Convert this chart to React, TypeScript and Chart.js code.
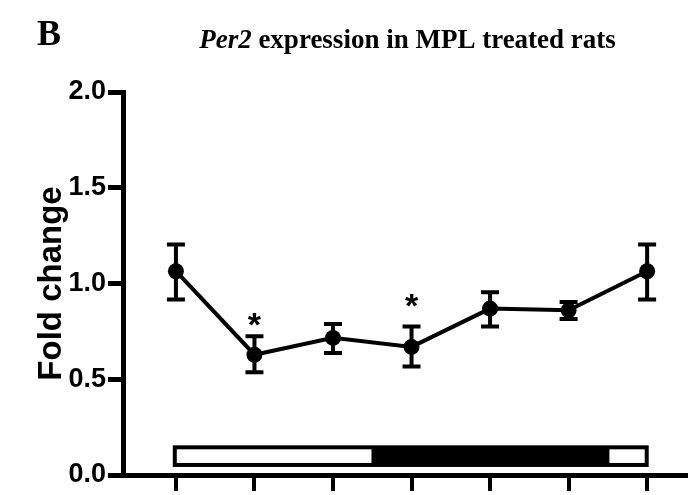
import React, { useEffect, useRef } from 'react';
import { Chart, registerables } from 'chart.js';

Chart.register(...registerables);

// ---- data ----
const timePoints = [0, 1, 2, 3, 4, 5, 6];
const foldChange = [1.064, 0.628, 0.716, 0.669, 0.869, 0.86, 1.064];
const errUpper = [1.204, 0.724, 0.789, 0.776, 0.954, 0.904, 1.204];
const errLower = [0.917, 0.536, 0.637, 0.567, 0.776, 0.815, 0.917];
const yTicks = [0, 0.5, 1.0, 1.5, 2.0];
const starIndex = [1, 3];
const starLevel = [0.81, 0.91];
// light/dark bar
const phaseStart = [-0.04, 2.49, 5.52];
const phaseEnd = [2.49, 5.52, 6.02];
const phaseDark = [false, true, false];
const phaseBarBottom = 0.042;
const phaseBarTop = 0.155;

const SANS = '"Liberation Sans", Arial, sans-serif';
const SERIF = '"Liberation Serif", "Times New Roman", serif';

const decorPlugin = {
  id: 'decor',
  beforeDatasetsDraw(chart: any) {
    const { ctx, scales } = chart;
    const xs = scales.x;
    const ys = scales.y;
    // phase bar
    const frame = 4;
    const x0 = xs.getPixelForValue(phaseStart[0]);
    const x1 = xs.getPixelForValue(phaseEnd[phaseEnd.length - 1]);
    const yt = ys.getPixelForValue(phaseBarTop);
    const yb = ys.getPixelForValue(phaseBarBottom);
    ctx.save();
    ctx.fillStyle = '#000';
    ctx.fillRect(x0, yt, x1 - x0, yb - yt);
    ctx.fillStyle = '#fff';
    phaseStart.forEach((s, i) => {
      if (phaseDark[i]) return;
      let a = xs.getPixelForValue(s);
      let b = xs.getPixelForValue(phaseEnd[i]);
      if (i === 0) a += frame;
      if (i === phaseStart.length - 1) b -= frame;
      ctx.fillRect(a, yt + frame, b - a, yb - yt - 2 * frame);
    });
    // error bars
    ctx.strokeStyle = '#000';
    ctx.lineWidth = 4;
    ctx.lineCap = 'butt';
    const cap = 9;
    timePoints.forEach((t, i) => {
      const px = xs.getPixelForValue(t);
      const pu = ys.getPixelForValue(errUpper[i]);
      const pl = ys.getPixelForValue(errLower[i]);
      ctx.beginPath();
      ctx.moveTo(px, pu);
      ctx.lineTo(px, pl);
      ctx.moveTo(px - cap, pu);
      ctx.lineTo(px + cap, pu);
      ctx.moveTo(px - cap, pl);
      ctx.lineTo(px + cap, pl);
      ctx.stroke();
    });
    ctx.restore();
  },
  afterDraw(chart: any) {
    const { ctx, scales, chartArea } = chart;
    const xs = scales.x;
    const ys = scales.y;
    ctx.save();
    ctx.fillStyle = '#000';
    // asterisks
    ctx.font = `bold 34px ${SANS}`;
    ctx.textAlign = 'center';
    ctx.textBaseline = 'alphabetic';
    const m = ctx.measureText('*');
    starIndex.forEach((idx, k) => {
      const cx = xs.getPixelForValue(timePoints[idx]);
      const cy = ys.getPixelForValue(starLevel[k]);
      const base = cy + (m.actualBoundingBoxAscent - m.actualBoundingBoxDescent) / 2;
      ctx.fillText('*', cx, base);
    });
    // panel letter
    ctx.textAlign = 'left';
    ctx.font = `bold 36px ${SERIF}`;
    ctx.fillText('B', 37, 45);
    // title: italic gene + bold rest
    const part1 = 'Per2';
    const part2 = ' expression in MPL treated rats';
    const f1 = `italic bold 27px ${SERIF}`;
    const f2 = `bold 27px ${SERIF}`;
    ctx.font = f1;
    const w1 = ctx.measureText(part1).width;
    ctx.font = f2;
    const w2 = ctx.measureText(part2).width;
    const cxT = (chartArea.left + chartArea.right) / 2 + 3;
    const startX = cxT - (w1 + w2) / 2;
    ctx.font = f1;
    ctx.fillText(part1, startX, 48);
    ctx.font = f2;
    ctx.fillText(part2, startX + w1, 48);
    // y axis title
    ctx.font = `bold 33px ${SANS}`;
    ctx.textAlign = 'center';
    ctx.textBaseline = 'middle';
    ctx.translate(52, (chartArea.top + chartArea.bottom) / 2);
    ctx.rotate(-Math.PI / 2);
    ctx.fillText('Fold change', 0, 0);
    ctx.restore();
  },
};

export default function App() {
  const ref = useRef<HTMLCanvasElement | null>(null);
  useEffect(() => {
    if (!ref.current) return;
    const chart = new Chart(ref.current, {
      type: 'line',
      data: {
        datasets: [
          {
            data: timePoints.map((t, i) => ({ x: t, y: foldChange[i] })),
            borderColor: '#000',
            backgroundColor: '#000',
            borderWidth: 4,
            pointRadius: 8,
            pointBackgroundColor: '#000',
            pointBorderWidth: 0,
            pointBorderColor: '#000',
            tension: 0,
            clip: false as any,
          },
        ],
      },
      options: {
        responsive: false,
        animation: false,
        devicePixelRatio: 1,
        layout: { padding: { top: 92, right: 12, left: 0, bottom: 0 } },
        plugins: {
          legend: { display: false },
          tooltip: { enabled: false },
          title: { display: false },
        },
        scales: {
          x: {
            type: 'linear',
            min: -0.674,
            max: 6.495,
            afterBuildTicks: (s: any) => {
              s.ticks = timePoints.map((v) => ({ value: v }));
            },
            afterFit: (s: any) => {
              s.height = 20;
            },
            ticks: { callback: () => '', padding: 0 },
            grid: {
              drawOnChartArea: false,
              drawTicks: true,
              tickLength: 16,
              lineWidth: 4,
              color: '#000',
            },
            border: { display: true, width: 5, color: '#000' },
          },
          y: {
            type: 'linear',
            min: 0,
            max: 2,
            afterBuildTicks: (s: any) => {
              s.ticks = yTicks.map((v) => ({ value: v }));
            },
            afterFit: (s: any) => {
              s.width = 123;
            },
            ticks: {
              callback: (v: any) => Number(v).toFixed(1),
              color: '#000',
              font: { family: SANS, size: 27, weight: 'bold' },
              padding: 2,
            },
            grid: {
              drawOnChartArea: false,
              drawTicks: true,
              tickLength: 15,
              lineWidth: 5,
              color: '#000',
            },
            border: { display: true, width: 5, color: '#000' },
          },
        },
      },
      plugins: [decorPlugin],
    } as any);
    return () => chart.destroy();
  }, []);
  return (
    <div style={{ position: 'absolute', left: 0, top: 0, width: 698, height: 495, background: '#fff' }}>
      <canvas ref={ref} width={698} height={495} style={{ display: 'block' }} />
    </div>
  );
}
